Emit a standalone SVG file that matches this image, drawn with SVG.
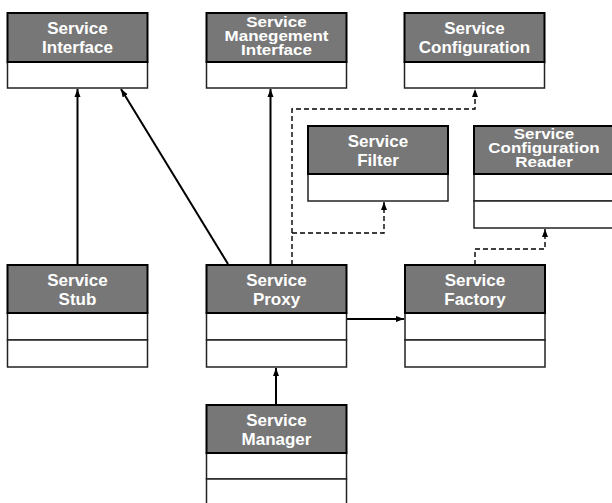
<svg xmlns="http://www.w3.org/2000/svg" width="612" height="503" viewBox="0 0 612 503">
  <style>
    .hdr { fill: #777777; stroke: #000; stroke-width: 2; }
    .cmp { fill: #ffffff; stroke: #222; stroke-width: 1.5; }
    .lbl { font-family: "Liberation Sans", Arial, Helvetica, sans-serif; font-weight: bold; font-size: 17px; fill: #ffffff; text-anchor: middle; }
    .solid { fill: none; stroke: #000; stroke-width: 2; marker-end: url(#head); }
    .dash { fill: none; stroke: #000; stroke-width: 1.4; stroke-dasharray: 5 3; marker-end: url(#head); }
  </style>
  <defs>
    <marker id="head" viewBox="0 0 8 8" refX="8" refY="4" markerWidth="8" markerHeight="8" markerUnits="userSpaceOnUse" orient="auto">
      <path d="M0,1 L8,4 L0,7 z" fill="#000"/>
    </marker>
  </defs>

  <rect width="612" height="503" fill="#ffffff"/>

  <!-- connectors -->
  <g id="connectors">
    <path class="solid" d="M77.5,265 V89"/>
    <path class="solid" d="M228,264 L121,89"/>
    <path class="solid" d="M270.5,265 V89"/>
    <path class="dash" d="M292,265 V109 H475 V89"/>
    <path class="dash" d="M292,233 H384 V202"/>
    <path class="dash" d="M475,265 V249 H545 V229"/>
    <path class="solid" d="M346,319 H404"/>
    <path class="solid" d="M276,405 V368"/>
  </g>

  <!-- classes -->
  <g id="service-interface">
    <rect class="cmp" x="7.5" y="62" width="140" height="26"/>
    <rect class="hdr" x="7.5" y="13" width="140" height="49"/>
    <text class="lbl" x="77.5" y="34">Service</text>
    <text class="lbl" x="77.5" y="53">Interface</text>
  </g>

  <g id="service-management-interface">
    <rect class="cmp" x="206.5" y="62" width="140" height="26"/>
    <rect class="hdr" x="206.5" y="13" width="140" height="49"/>
    <g transform="translate(276.5,0) scale(1,0.85)">
      <text class="lbl" x="0" y="31.5">Service</text>
      <text class="lbl" x="0" y="48">Manegement</text>
      <text class="lbl" x="0" y="64.5">Interface</text>
    </g>
  </g>

  <g id="service-configuration">
    <rect class="cmp" x="404.5" y="62" width="140" height="26"/>
    <rect class="hdr" x="404.5" y="13" width="140" height="49"/>
    <text class="lbl" x="474.5" y="34">Service</text>
    <text class="lbl" x="474.5" y="53">Configuration</text>
  </g>

  <g id="service-filter">
    <rect class="cmp" x="308" y="174" width="140" height="27"/>
    <rect class="hdr" x="308" y="126" width="140" height="48"/>
    <text class="lbl" x="378" y="147">Service</text>
    <text class="lbl" x="378" y="166">Filter</text>
  </g>

  <g id="service-configuration-reader">
    <rect class="cmp" x="474" y="174" width="140" height="27"/>
    <rect class="cmp" x="474" y="201" width="140" height="27"/>
    <rect class="hdr" x="474" y="126" width="140" height="48"/>
    <g transform="translate(544,0) scale(1,0.85)">
      <text class="lbl" x="0" y="163.5">Service</text>
      <text class="lbl" x="0" y="180">Configuration</text>
      <text class="lbl" x="0" y="196.5">Reader</text>
    </g>
  </g>

  <g id="service-stub">
    <rect class="cmp" x="7.5" y="313" width="140" height="27"/>
    <rect class="cmp" x="7.5" y="340" width="140" height="27"/>
    <rect class="hdr" x="7.5" y="265" width="140" height="48"/>
    <text class="lbl" x="77.5" y="286">Service</text>
    <text class="lbl" x="77.5" y="305">Stub</text>
  </g>

  <g id="service-proxy">
    <rect class="cmp" x="206.5" y="313" width="140" height="27"/>
    <rect class="cmp" x="206.5" y="340" width="140" height="27"/>
    <rect class="hdr" x="206.5" y="265" width="140" height="48"/>
    <text class="lbl" x="276.5" y="286">Service</text>
    <text class="lbl" x="276.5" y="305">Proxy</text>
  </g>

  <g id="service-factory">
    <rect class="cmp" x="405" y="313" width="140" height="27"/>
    <rect class="cmp" x="405" y="340" width="140" height="27"/>
    <rect class="hdr" x="405" y="265" width="140" height="48"/>
    <text class="lbl" x="475" y="286">Service</text>
    <text class="lbl" x="475" y="305">Factory</text>
  </g>

  <g id="service-manager">
    <rect class="cmp" x="206.5" y="453" width="140" height="26"/>
    <rect class="cmp" x="206.5" y="479" width="140" height="28"/>
    <rect class="hdr" x="206.5" y="405" width="140" height="48"/>
    <text class="lbl" x="276.5" y="426">Service</text>
    <text class="lbl" x="276.5" y="445">Manager</text>
  </g>
</svg>
